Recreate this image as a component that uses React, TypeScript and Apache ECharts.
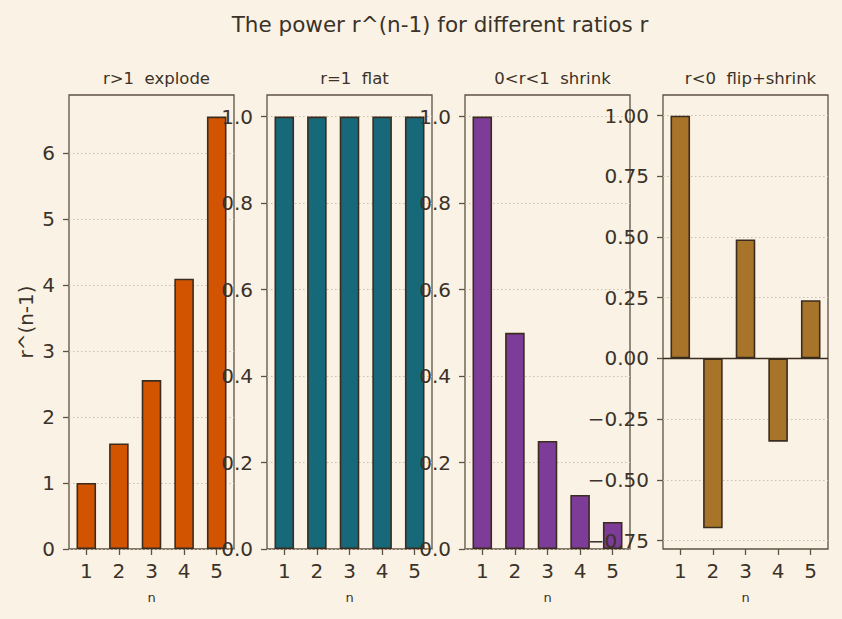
import React, { useEffect, useRef } from "react";
import * as echarts from "echarts";

// Term index n and the value r^(n-1) for four kinds of ratio r
const nValues = [1, 2, 3, 4, 5];
const explodeValues = [1, 1.6, 2.56, 4.096, 6.5536]; // r = 1.6
const flatValues = [1, 1, 1, 1, 1]; // r = 1
const shrinkValues = [1, 0.5, 0.25, 0.125, 0.0625]; // r = 0.5
const flipValues = [1, -0.7, 0.49, -0.343, 0.2401]; // r = -0.7

const panelTitles = ["r>1  explode", "r=1  flat", "0<r<1  shrink", "r<0  flip+shrink"];
const panelColors = ["#d35400", "#17697a", "#7d3c98", "#a8742a"];

const yTicks1 = [0, 1, 2, 3, 4, 5, 6];
const yTicks2 = [0, 0.2, 0.4, 0.6, 0.8, 1.0];
const yTicks3 = [0, 0.2, 0.4, 0.6, 0.8, 1.0];
const yTicks4 = [-0.75, -0.5, -0.25, 0, 0.25, 0.5, 0.75, 1.0];

const BG = "#faf2e4";
const INK = "#3b3229";
const EDGE = "#3a2c1e";
const FRAME = "#5e5242";
const GRIDLINE = "#c9bfae";

const FONT = "DejaVu Sans";

const panelLeft = [69, 267, 465, 663];
const panelWidth = 165;
const panelTop = 95;
const panelHeight = 454;

// matplotlib-style autoscale with a 5% margin, bars anchored at zero
function yLimits(values: number[]): [number, number] {
  const lo = Math.min(0, ...values);
  const hi = Math.max(0, ...values);
  const pad = (hi - lo) * 0.05;
  return [lo < 0 ? lo - pad : 0, hi > 0 ? hi + pad : 0];
}

function fmtTick(v: number, decimals: number): string {
  const s = Math.abs(v).toFixed(decimals);
  return v < 0 ? "\u2212" + s : s;
}

export default function App() {
  const ref = useRef<HTMLDivElement>(null);

  useEffect(() => {
    if (!ref.current) return;
    const chart = echarts.init(ref.current, null, { renderer: "svg" });

    const seriesValues = [explodeValues, flatValues, shrinkValues, flipValues];
    const tickSets = [yTicks1, yTicks2, yTicks3, yTicks4];
    const decimals = [0, 1, 1, 2];

    const barWidthUnits = 0.6;
    const xPad = (nValues[nValues.length - 1] - nValues[0] + barWidthUnits) * 0.05;
    const xMin = nValues[0] - barWidthUnits / 2 - xPad;
    const xMax = nValues[nValues.length - 1] + barWidthUnits / 2 + xPad;
    const pxPerUnit = panelWidth / (xMax - xMin);

    const grids = panelLeft.map((left) => ({
      left,
      top: panelTop,
      width: panelWidth,
      height: panelHeight,
      show: true,
      backgroundColor: "transparent",
      borderColor: FRAME,
      borderWidth: 1.3,
      containLabel: false,
    }));

    const xAxes = panelLeft.map((_, i) => ({
      type: "value",
      gridIndex: i,
      min: xMin,
      max: xMax,
      z: 10,
      name: "n",
      nameLocation: "middle",
      nameGap: 42,
      nameTextStyle: { color: INK, fontSize: 13, fontFamily: FONT },
      axisLine: { show: false, onZero: false },
      axisTick: {
        show: true,
        length: 6,
        inside: false,
        lineStyle: { color: FRAME, width: 1.3 },
        customValues: nValues,
      },
      axisLabel: {
        color: INK,
        fontSize: 20,
        fontFamily: FONT,
        margin: 12,
        customValues: nValues,
        formatter: (v: number) => String(Math.round(v)),
      },
      splitLine: { show: false },
    }));

    // Per panel: a low axis that carries the bars and the dotted grid lines
    // (drawn beneath the bars) ...
    const gridAxes = seriesValues.map((vals, i) => {
      const [lo, hi] = yLimits(vals);
      return {
        type: "value",
        gridIndex: i,
        min: lo,
        max: hi,
        z: 0,
        axisLine: { show: false, onZero: false },
        axisTick: { show: false, customValues: tickSets[i] },
        axisLabel: { show: false, customValues: tickSets[i] },
        splitLine: {
          show: true,
          lineStyle: { color: GRIDLINE, type: [1.5, 2.5], width: 1 },
        },
      };
    });

    // ... and a high axis for ticks and labels, which overlap the
    // neighbouring panel's bars and sit on top of them
    const labelAxes = seriesValues.map((vals, i) => {
      const [lo, hi] = yLimits(vals);
      return {
        type: "value",
        gridIndex: i,
        position: "left",
        min: lo,
        max: hi,
        z: 10,
        name: i === 0 ? "r^(n-1)" : "",
        nameLocation: "middle",
        nameGap: 33,
        nameRotate: 90,
        nameTextStyle: { color: INK, fontSize: 20, fontFamily: FONT },
        axisLine: { show: false, onZero: false },
        axisTick: {
          show: true,
          length: 6,
          lineStyle: { color: FRAME, width: 1.3 },
          customValues: tickSets[i],
        },
        axisLabel: {
          color: INK,
          fontSize: 20,
          fontFamily: FONT,
          margin: 14,
          customValues: tickSets[i],
          formatter: (v: number) => fmtTick(v, decimals[i]),
        },
        splitLine: { show: false },
      };
    });

    const series: any[] = seriesValues.map((vals, i) => ({
      type: "bar",
      xAxisIndex: i,
      yAxisIndex: i,
      barWidth: barWidthUnits * pxPerUnit,
      data: nValues.map((n, k) => [n, vals[k]]),
      itemStyle: {
        color: panelColors[i],
        borderColor: EDGE,
        borderWidth: 1.6,
      },
      z: 3,
    }));

    // zero line across the panel that has negative values
    series.push({
      type: "line",
      xAxisIndex: 3,
      yAxisIndex: 3,
      data: [],
      markLine: {
        silent: true,
        symbol: "none",
        label: { show: false },
        lineStyle: { color: EDGE, width: 1.3, type: "solid" },
        data: [{ yAxis: 0 }],
      },
      z: 4,
    });

    const titles: any[] = [
      {
        text: "The power r^(n-1) for different ratios r",
        left: 435,
        top: 8,
        textAlign: "center",
        textStyle: { color: INK, fontSize: 21.5, fontWeight: "normal", fontFamily: FONT },
      },
      ...panelTitles.map((t, i) => ({
        text: t,
        left: panelLeft[i] + panelWidth / 2,
        top: 65,
        textAlign: "center",
        textStyle: { color: INK, fontSize: 16.5, fontWeight: "normal", fontFamily: FONT },
      })),
    ];

    chart.setOption({
      animation: false,
      backgroundColor: BG,
      textStyle: { fontFamily: FONT },
      title: titles,
      grid: grids,
      xAxis: xAxes,
      yAxis: [...gridAxes, ...labelAxes],
      series,
    });

    return () => chart.dispose();
  }, []);

  return (
    <div
      ref={ref}
      style={{ position: "absolute", left: 0, top: 0, width: 842, height: 619, background: BG }}
    />
  );
}
